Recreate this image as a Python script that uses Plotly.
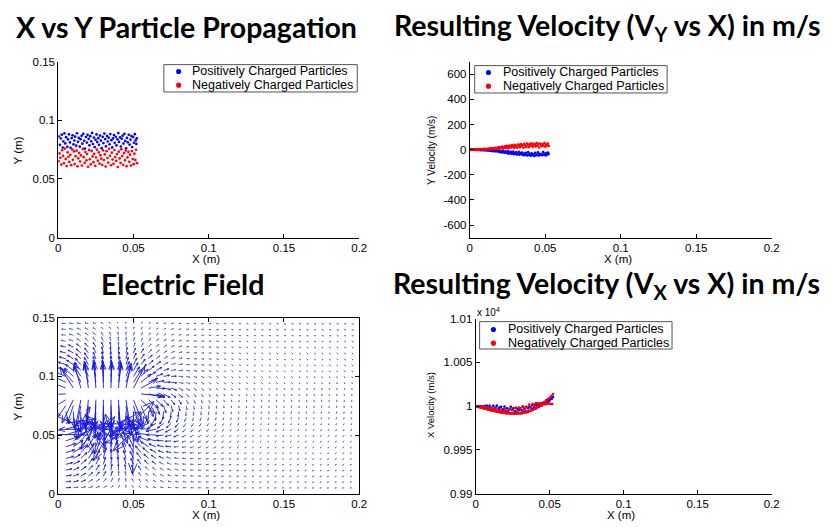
import numpy as np
import plotly.graph_objects as go

# ---------------- data ----------------
# Positively charged particles: position x (m), y (m), Y velocity (m/s), X velocity (m/s)
pos_x = [0.0004, 0.0011, 0.0017, 0.0023, 0.0030, 0.0034, 0.0041, 0.0047, 0.0052, 0.0060,
         0.0065, 0.0071, 0.0078, 0.0082, 0.0089, 0.0095, 0.0101, 0.0107, 0.0112, 0.0119,
         0.0125, 0.0131, 0.0136, 0.0143, 0.0148, 0.0155, 0.0160, 0.0166, 0.0172, 0.0177,
         0.0184, 0.0190, 0.0195, 0.0202, 0.0207, 0.0213, 0.0219, 0.0225, 0.0230, 0.0237,
         0.0242, 0.0248, 0.0254, 0.0259, 0.0266, 0.0271, 0.0277, 0.0283, 0.0288, 0.0295,
         0.0300, 0.0306, 0.0312, 0.0317, 0.0324, 0.0329, 0.0335, 0.0341, 0.0346, 0.0353,
         0.0358, 0.0364, 0.0370, 0.0375, 0.0382, 0.0387, 0.0393, 0.0399, 0.0404, 0.0411,
         0.0416, 0.0422, 0.0428, 0.0433, 0.0440, 0.0445, 0.0451, 0.0457, 0.0462, 0.0469,
         0.0474, 0.0480, 0.0486, 0.0491, 0.0498, 0.0503, 0.0509, 0.0514, 0.0519, 0.0522]
pos_y = [0.0862, 0.0791, 0.0845, 0.0878, 0.0768, 0.0820, 0.0889, 0.0803, 0.0856, 0.0774,
         0.0837, 0.0881, 0.0812, 0.0766, 0.0849, 0.0872, 0.0795, 0.0828, 0.0861, 0.0784,
         0.0890, 0.0817, 0.0851, 0.0775, 0.0839, 0.0868, 0.0801, 0.0884, 0.0826, 0.0759,
         0.0858, 0.0810, 0.0876, 0.0842, 0.0787, 0.0865, 0.0821, 0.0893, 0.0798, 0.0853,
         0.0771, 0.0834, 0.0880, 0.0815, 0.0848, 0.0792, 0.0870, 0.0827, 0.0763, 0.0859,
         0.0806, 0.0887, 0.0840, 0.0778, 0.0867, 0.0819, 0.0852, 0.0796, 0.0883, 0.0831,
         0.0769, 0.0846, 0.0874, 0.0808, 0.0860, 0.0786, 0.0838, 0.0891, 0.0816, 0.0855,
         0.0777, 0.0843, 0.0869, 0.0802, 0.0885, 0.0824, 0.0761, 0.0850, 0.0813, 0.0877,
         0.0793, 0.0835, 0.0866, 0.0772, 0.0857, 0.0809, 0.0882, 0.0829, 0.0799, 0.0847]
pos_vy = [0, -1, 0, -1, -1, 0, -2, -1, 0, -2,
          -1, -3, -2, -4, -1, -3, -5, -2, -4, -6,
          -3, -8, -5, -10, -4, -12, -7, -9, -14, -6,
          -11, -16, -8, -19, -13, -22, -10, -17, -25, -14,
          -20, -28, -12, -31, -24, -18, -34, -26, -15, -36,
          -29, -21, -38, -33, -17, -40, -27, -35, -23, -42,
          -31, -44, -25, -38, -46, -20, -41, -34, -48, -29,
          -43, -37, -50, -26, -45, -39, -22, -47, -33, -41,
          -36, -44, -19, -40, -31, -46, -28, -38, -24, -35]
pos_vx = [9999.8, 9999.8, 9999.2, 9999.4, 9998.8, 9999.9, 9998.4, 9999.7, 9997.8, 9998.1,
          10000.4, 9997.1, 10000.3, 9996.3, 9998.3, 10000.5, 9995.9, 9998.0, 9994.9, 10000.5,
          9994.7, 9998.5, 9995.0, 10000.6, 9993.7, 9996.7, 9998.5, 9993.0, 9999.1, 9994.0,
          9996.3, 9992.6, 9999.4, 9994.3, 9992.0, 9997.6, 9994.5, 9992.1, 9996.4, 9999.3,
          9991.6, 9995.6, 9997.6, 9991.4, 9994.2, 9998.2, 9992.3, 9996.8, 9991.8, 9995.4,
          9997.4, 9991.9, 9995.3, 9999.4, 9993.0, 9997.3, 9994.5, 9999.2, 9993.3, 9997.7,
          9994.6, 9999.5, 9994.7, 9997.8, 10001.2, 9996.3, 9998.5, 10000.9, 9997.1, 10001.2,
          9998.8, 10000.9, 9999.1, 10003.1, 10001.1, 10000.5, 10003.7, 10002.6, 10004.1, 10003.4,
          10003.6, 10007.0, 10004.9, 10007.2, 10006.2, 10008.0, 10009.6, 10008.4, 10010.3, 10010.4]

# Negatively charged particles
neg_x = [0.0002, 0.0008, 0.0014, 0.0020, 0.0026, 0.0032, 0.0038, 0.0044, 0.0049, 0.0056,
         0.0062, 0.0068, 0.0073, 0.0080, 0.0086, 0.0092, 0.0097, 0.0104, 0.0109, 0.0115,
         0.0122, 0.0128, 0.0133, 0.0139, 0.0145, 0.0151, 0.0157, 0.0163, 0.0169, 0.0175,
         0.0180, 0.0187, 0.0192, 0.0198, 0.0205, 0.0210, 0.0216, 0.0222, 0.0228, 0.0234,
         0.0239, 0.0246, 0.0251, 0.0257, 0.0263, 0.0269, 0.0274, 0.0280, 0.0286, 0.0292,
         0.0298, 0.0303, 0.0309, 0.0315, 0.0321, 0.0327, 0.0332, 0.0338, 0.0344, 0.0350,
         0.0356, 0.0361, 0.0367, 0.0373, 0.0379, 0.0385, 0.0390, 0.0396, 0.0402, 0.0408,
         0.0414, 0.0419, 0.0425, 0.0431, 0.0437, 0.0443, 0.0448, 0.0454, 0.0460, 0.0466,
         0.0472, 0.0477, 0.0483, 0.0489, 0.0495, 0.0501, 0.0506, 0.0512, 0.0517, 0.0523]
neg_y = [0.0652, 0.0718, 0.0681, 0.0623, 0.0745, 0.0697, 0.0634, 0.0759, 0.0671, 0.0610,
         0.0728, 0.0689, 0.0645, 0.0706, 0.0618, 0.0752, 0.0663, 0.0735, 0.0627, 0.0694,
         0.0741, 0.0608, 0.0676, 0.0722, 0.0649, 0.0701, 0.0615, 0.0756, 0.0686, 0.0638,
         0.0730, 0.0659, 0.0712, 0.0604, 0.0748, 0.0668, 0.0625, 0.0739, 0.0692, 0.0643,
         0.0715, 0.0612, 0.0683, 0.0750, 0.0656, 0.0726, 0.0631, 0.0703, 0.0673, 0.0620,
         0.0744, 0.0661, 0.0709, 0.0606, 0.0737, 0.0679, 0.0640, 0.0757, 0.0698, 0.0617,
         0.0724, 0.0666, 0.0629, 0.0747, 0.0687, 0.0654, 0.0713, 0.0602, 0.0733, 0.0675,
         0.0637, 0.0754, 0.0695, 0.0621, 0.0720, 0.0660, 0.0742, 0.0609, 0.0684, 0.0731,
         0.0647, 0.0707, 0.0614, 0.0738, 0.0670, 0.0626, 0.0716, 0.0662, 0.0749, 0.0635]
neg_vy = [0, 1, 0, 1, 2, 0, 1, 2, 1, 0,
          2, 4, 1, 3, 5, 2, 6, 3, 1, 7,
          4, 9, 2, 11, 6, 13, 3, 8, 15, 5,
          12, 18, 7, 21, 10, 16, 24, 9, 19, 27,
          14, 30, 22, 11, 33, 25, 17, 36, 28, 13,
          38, 23, 31, 16, 41, 34, 20, 44, 27, 37,
          15, 46, 32, 24, 49, 39, 19, 42, 29, 51,
          35, 22, 47, 40, 26, 53, 33, 44, 18, 49,
          37, 28, 45, 31, 52, 24, 41, 35, 48, 30]
neg_vx = [9999.9, 9999.8, 9999.9, 9999.0, 9999.1, 9999.3, 9998.3, 9998.3, 9998.8, 9997.3,
          9997.5, 9998.8, 9996.7, 9996.9, 9998.9, 9996.0, 9995.5, 9996.9, 9995.3, 9994.9,
          9996.9, 9994.5, 9994.1, 9997.7, 9994.0, 9993.5, 9994.6, 9993.2, 9996.2, 9992.7,
          9992.8, 9994.2, 9992.3, 9996.9, 9992.0, 9991.8, 9994.6, 9991.9, 9991.6, 9997.3,
          9991.6, 9992.2, 9995.6, 9991.3, 9991.6, 9997.7, 9991.3, 9993.8, 9991.6, 9998.4,
          9991.6, 9996.5, 9992.1, 9992.0, 9999.6, 9992.6, 9995.4, 9992.8, 9998.8, 9993.5,
          9993.5, 10001.8, 9994.5, 9998.6, 9995.2, 10002.5, 9996.2, 10001.7, 9996.8, 10003.4,
          9998.3, 10003.1, 9999.4, 10002.9, 10001.1, 10000.7, 10003.3, 10002.8, 10002.0, 10004.8,
          10002.3, 10006.3, 10003.0, 10008.2, 10002.8, 10009.8, 10002.6, 10011.8, 10002.5, 10013.8]

# Charges that produce the electric-field panel (m)
field_pos_x = [0.010, 0.015, 0.020, 0.025, 0.030, 0.035, 0.040, 0.045, 0.050]
field_pos_y = [0.085, 0.085, 0.085, 0.085, 0.085, 0.085, 0.085, 0.085, 0.085]
field_neg_x = [0.008, 0.012, 0.016, 0.019, 0.023, 0.027, 0.031, 0.034, 0.038, 0.042, 0.046, 0.050, 0.054]
field_neg_y = [0.061, 0.055, 0.063, 0.050, 0.058, 0.047, 0.060, 0.053, 0.046, 0.062, 0.056, 0.049, 0.059]
field_grid_x = [round(0.005 * k, 3) for k in range(1, 40)]
field_grid_y = [round(0.005 * k, 3) for k in range(1, 30)]

x_ticks = [0, 0.05, 0.1, 0.15, 0.2]
x_ticktext = ["0", "0.05", "0.1", "0.15", "0.2"]
ypos_ticks = [0, 0.05, 0.1, 0.15]
ypos_ticktext = ["0", "0.05", "0.1", "0.15"]
vy_ticks = [-600, -400, -200, 0, 200, 400, 600]
vy_ticktext = ["-600", "-400", "-200", "0", "200", "400", "600"]
vx_ticks = [0.99, 0.995, 1.0, 1.005, 1.01]
vx_ticktext = ["0.99", "0.995", "1", "1.005", "1.01"]

LEG_POS = "Positively Charged Particles"
LEG_NEG = "Negatively Charged Particles"

# ---------------- layout helpers ----------------
W, H = 833, 527
def dx(a, b):
    return [a / W, b / W]
def dy(top, bottom):
    return [1 - bottom / H, 1 - top / H]
def px(x):
    return x / W
def py(y):
    return 1 - y / H

BLUE = "#0000ff"
RED = "#ff0000"
MS = 2.7
SANS = "Liberation Sans, Arial, sans-serif"
TICKFONT = dict(family=SANS, size=11.5, color="black")

fig = go.Figure()

def add_scatter(xv, yv, color, xa, ya):
    fig.add_trace(go.Scatter(x=xv, y=yv, mode="markers", xaxis=xa, yaxis=ya,
                             marker=dict(color=color, size=MS, line=dict(width=0)),
                             showlegend=False, hoverinfo="skip"))

# Panel 1: X vs Y
add_scatter(pos_x, pos_y, BLUE, "x", "y")
add_scatter(neg_x, neg_y, RED, "x", "y")
# Panel 2: Vy vs X
add_scatter(pos_x, pos_vy, BLUE, "x2", "y2")
add_scatter(neg_x, neg_vy, RED, "x2", "y2")
# Panel 4: Vx vs X (in units of 1e4 m/s)
add_scatter(pos_x, [v / 1e4 for v in pos_vx], BLUE, "x4", "y4")
add_scatter(neg_x, [v / 1e4 for v in neg_vx], RED, "x4", "y4")

# Panel 3: electric field (quiver) from the listed charges, with boundary images
src = []
for xs, ys, q in ([(a, b, 1.0) for a, b in zip(field_pos_x, field_pos_y)] +
                  [(a, b, -len(field_pos_x) / len(field_neg_x)) for a, b in zip(field_neg_x, field_neg_y)]):
    for sx, sq in ((xs, q), (-xs, -q)):
        for sy in (ys, -ys, 0.3 - ys):
            src.append((sx, sy, sq))
src = np.array(src)
GX, GY = np.meshgrid(np.array(field_grid_x), np.array(field_grid_y))
with np.errstate(divide="ignore", invalid="ignore"):
    rx = GX[..., None] - src[:, 0]
    ry = GY[..., None] - src[:, 1]
    r3 = (rx ** 2 + ry ** 2) ** 1.5
    Ex = np.sum(src[:, 2] * rx / r3, axis=-1)
    Ey = np.sum(src[:, 2] * ry / r3, axis=-1)
Emag = np.hypot(Ex, Ey)
ok = np.isfinite(Emag) & (Emag > 0)
E90 = np.percentile(Emag[ok], 90)
PXX, PXY = 305 / 0.2, 180 / 0.15
big_x, big_y, sm_x, sm_y = [], [], [], []
for i in range(GX.shape[0]):
    for j in range(GX.shape[1]):
        if not ok[i, j]:
            continue
        L = min(40.0, max(1.8, 14.0 * (Emag[i, j] / E90) ** 0.5))
        ux, uy = Ex[i, j] / Emag[i, j], Ey[i, j] / Emag[i, j]
        x0, y0 = GX[i, j], GY[i, j]
        x1, y1 = x0 + L * ux / PXX, y0 + L * uy / PXY
        tx, ty = (big_x, big_y) if L >= 5 else (sm_x, sm_y)
        tx += [x0, x1, None]
        ty += [y0, y1, None]
        h = 0.3 * L
        for ang in (0.38, -0.38):
            bx = -ux * np.cos(ang) + uy * np.sin(ang)
            by = -ux * np.sin(ang) - uy * np.cos(ang)
            tx += [x1, x1 + h * bx / PXX, None]
            ty += [y1, y1 + h * by / PXY, None]
fig.add_trace(go.Scatter(x=sm_x, y=sm_y, mode="lines", xaxis="x3", yaxis="y3",
                         line=dict(color="#5050ea", width=0.9), showlegend=False,
                         hoverinfo="skip"))
fig.add_trace(go.Scatter(x=big_x, y=big_y, mode="lines", xaxis="x3", yaxis="y3",
                         line=dict(color="#1818e0", width=0.9), showlegend=False,
                         hoverinfo="skip"))

def axis(domain, rng, tv, tt, anchor, mirror=False):
    return dict(domain=domain, range=rng, tickvals=tv, ticktext=tt, anchor=anchor,
                showline=True, linecolor="black", linewidth=1, mirror=("ticks" if mirror else False),
                ticks="inside", ticklen=4, tickcolor="black", showgrid=False, zeroline=False,
                tickfont=TICKFONT, fixedrange=True)

fig.update_layout(
    width=W, height=H, margin=dict(l=0, r=0, t=0, b=0),
    paper_bgcolor="white", plot_bgcolor="white", showlegend=False,
    xaxis=axis(dx(56, 361), [0, 0.2], x_ticks, x_ticktext, "y"),
    yaxis=axis(dy(57, 237), [0, 0.15], ypos_ticks, ypos_ticktext, "x"),
    xaxis2=axis(dx(473, 779), [0, 0.2], x_ticks, x_ticktext, "y2"),
    yaxis2=axis(dy(57, 237), [-700, 700], vy_ticks, vy_ticktext, "x2"),
    xaxis3=axis(dx(56, 361), [0, 0.2], x_ticks, x_ticktext, "y3", mirror=True),
    yaxis3=axis(dy(319, 499), [0, 0.15], ypos_ticks, ypos_ticktext, "x3", mirror=True),
    xaxis4=axis(dx(479, 779), [0, 0.2], x_ticks, x_ticktext, "y4"),
    yaxis4=axis(dy(320, 499), [0.99, 1.01], vx_ticks, vx_ticktext, "x4"),
)

# Legends drawn as boxes with dot symbols and labels
LEGFONT = dict(family=SANS, size=12.5, color="black")
shapes, annos = [], []
legend_boxes = [  # (left, top, right, bottom, dot_x, text_x, row1_y, row2_y)
    (163, 60, 359, 88, 178, 190, 67, 81),
    (478, 61, 673, 89, 492, 505, 68, 82),
    (483, 323, 678, 351, 497, 510, 331, 345),
]
for (l, t, r, b, dxp, txp, r1, r2) in legend_boxes:
    shapes.append(dict(type="rect", xref="paper", yref="paper", x0=px(l), x1=px(r), y0=py(b), y1=py(t),
                       line=dict(color="#555555", width=1), fillcolor="white", layer="above"))
    for yy, col, lab in ((r1, BLUE, LEG_POS), (r2, RED, LEG_NEG)):
        shapes.append(dict(type="circle", xref="paper", yref="paper",
                           x0=px(dxp - 2.6), x1=px(dxp + 2.6), y0=py(yy + 2.6), y1=py(yy - 2.6),
                           line=dict(width=0), fillcolor=col, layer="above"))
        annos.append(dict(text=lab, x=px(txp), y=py(yy), xanchor="left", yanchor="middle",
                          font=LEGFONT))

TFONT = dict(family="Lato, 'Open Sans', sans-serif", size=28.5, color="black")
AFONT = dict(family=SANS, size=11.5, color="black")
labels = [
    dict(text="<b>X vs Y Particle Propagation</b>", x=186, y=21, font=TFONT),
    dict(text="<b>Resulting Velocity (V<sub>Y</sub> vs X) in m/s</b>", x=612, y=21, font=TFONT),
    dict(text="<b>Electric Field</b>", x=182, y=284, font=TFONT),
    dict(text="<b>Resulting Velocity (V<sub>X</sub> vs X) in m/s</b>", x=612, y=285, font=TFONT),
    dict(text="X (m)", x=206, y=259, font=AFONT, height=12),
    dict(text="Y (m)", x=15, y=148, font=AFONT, textangle=-90),
    dict(text="X (m)", x=623, y=259, font=AFONT, height=12),
    dict(text="Y Velocity (m/s)", x=434, y=148, font=dict(AFONT, size=10), textangle=-90),
    dict(text="X (m)", x=206, y=521, font=AFONT, height=12),
    dict(text="Y (m)", x=15, y=410, font=AFONT, textangle=-90),
    dict(text="X (m)", x=626, y=521, font=AFONT, height=12),
    dict(text="X Velocity (m/s)", x=433, y=408, font=dict(AFONT, size=9.5), textangle=-90),
    dict(text="x 10<sup>4</sup>", x=492, y=313, font=dict(AFONT, size=10)),
]
for a in labels:
    annos.append(dict(a, x=px(a["x"]), y=py(a["y"]), xanchor="center", yanchor="middle"))
fig.update_layout(
    shapes=shapes,
    annotations=[dict(a, xref="paper", yref="paper", showarrow=False) for a in annos],
)

fig.write_html("out.html")
